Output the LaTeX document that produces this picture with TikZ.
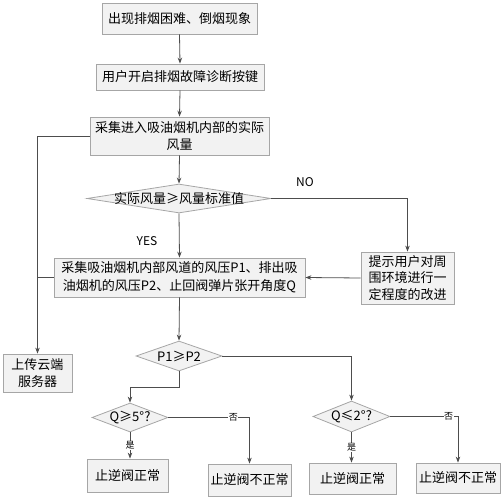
\documentclass[tikz,border=0pt]{standalone}
\usepackage{fontspec}
\newfontfamily\cjk{Noto Sans CJK SC}
\usetikzlibrary{arrows.meta,shapes.geometric,shadows,calc}
\definecolor{boxfill}{HTML}{F2F2F2}
\definecolor{boxline}{HTML}{A6A6A6}
\definecolor{linec}{HTML}{4D4D4D}
\tikzset{
  x=1pt,y=-1pt,
  box/.style={draw=boxline,fill=boxfill,line width=0.8pt,inner sep=0pt,align=center,
     font=\cjk\fontsize{13}{17}\selectfont,
     drop shadow={shadow xshift=1pt,shadow yshift=-1pt,fill=black!25,opacity=1}},
  dia/.style={diamond,draw=boxline,fill=boxfill,line width=0.8pt,inner sep=0pt},
  dtext/.style={font=\cjk\fontsize{13}{16}\selectfont,inner sep=0pt},
  conn/.style={draw=linec,line width=0.8pt},
  arr/.style={conn,-{Stealth[length=6pt,width=4.5pt]}},
  lab/.style={font=\cjk\fontsize{12}{14}\selectfont,inner sep=0pt},
  yn/.style={font=\cjk\fontsize{9}{10}\selectfont,fill=white,inner sep=0.5pt},
}
\begin{document}
\begin{tikzpicture}
\useasboundingbox (0,0) rectangle (503,500);
\node[box,minimum width=155,minimum height=31] (b1) at (179.5,18.5) {出现排烟困难、倒烟现象};
\node[box,minimum width=168,minimum height=26] (b2) at (180,77) {用户开启排烟故障诊断按键};
\node[box,minimum width=179,minimum height=38] (b3) at (179.5,136) {采集进入吸油烟机内部的实际\\风量};
\node[dia,minimum width=184,minimum height=29] (d1) at (179,198.5) {};
\node[dtext] at (d1) {实际风量≥风量标准值};
\node[box,minimum width=93,minimum height=52,font=\cjk\fontsize{13}{16.5}\selectfont] (b4) at (407.5,278) {提示用户对周\\围环境进行一\\定程度的改进};
\node[box,minimum width=251,minimum height=39,font=\cjk\fontsize{13}{18}\selectfont] (b5) at (179.5,277.5) {采集吸油烟机内部风道的风压P1、排出吸\\油烟机的风压P2、止回阀弹片张开角度Q};
\node[box,minimum width=69,minimum height=38] (up) at (37.5,373) {上传云端\\服务器};
\node[dia,minimum width=86,minimum height=30] (d2) at (179,356) {};
\node[dtext] at (d2) {P1≥P2};
\node[dia,minimum width=76,minimum height=29] (d3) at (130,417.5) {};
\node[dtext] at (d3) {Q≥5°?};
\node[dia,minimum width=77,minimum height=31] (d4) at (351.5,416.5) {};
\node[dtext] at (d4) {Q≤2°?};
\node[box,minimum width=81,minimum height=33] (b6) at (127.5,475.5) {止逆阀正常};
\node[box,minimum width=83,minimum height=32] (b7) at (249.5,480) {止逆阀不正常};
\node[box,minimum width=87,minimum height=31] (b8) at (352.5,478.5) {止逆阀正常};
\node[box,minimum width=84,minimum height=30] (b9) at (458,478) {止逆阀不正常};

\node[lab] (no) at (305,182) {NO};
\node[lab] (yes) at (147,241) {YES};

\draw[arr] (b1.south) -- (b2.north);
\draw[arr] (b2.south) -- (b3.north);
\draw[arr] (b3.south) -- (d1.north);
\draw[arr] (d1.east) -| (b4.north);
\draw[arr] (d1.south) -- (b5.north);
\draw[arr] (b4.west) -- (b5.east);
\draw[arr] (b3.west) -| (up.north);
\draw[conn] (b5.west) -- (b5.west -| up.north);
\draw[arr] (b5.south) -- (d2.north);
\coordinate (k) at ($(d2.south)+(0,16)$);
\draw[arr] (d2.south) -- (k) -| (d3.north);
\draw[arr] (d2.east) -| (d4.north);
\draw[arr] (d3.east) -| (b7.north) node[yn,pos=0.4] {否};
\draw[arr] (d3.south) -- (d3.south |- b6.north) node[yn,midway] {是};
\draw[arr] (d4.east) -| (b9.north) node[yn,pos=0.43] {否};
\draw[arr] (d4.south) -- (d4.south |- b8.north) node[yn,midway] {是};
\end{tikzpicture}
\end{document}
